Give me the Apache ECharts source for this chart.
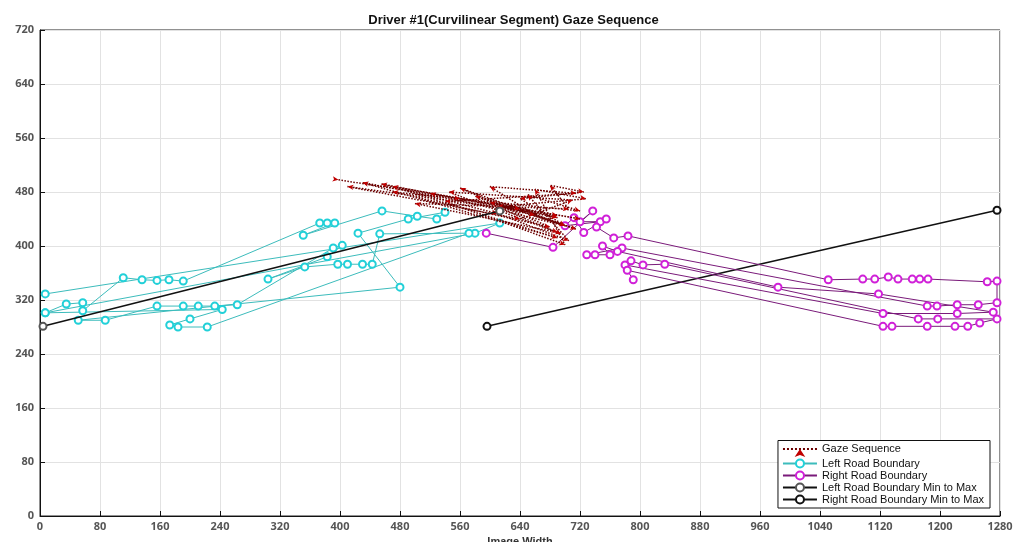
<!DOCTYPE html>
<html>
<head>
<meta charset="utf-8">
<script src="https://cdn.jsdelivr.net/npm/echarts@6/dist/echarts.min.js"></script>
<style>
  html, body { margin: 0; padding: 0; background: #fff; }
  #main { width: 1027px; height: 542px; }
</style>
</head>
<body>
<div id="main"></div>
<script>
// gaze sequence (image pixel coordinates)
const gazeX = [398, 560, 640, 700, 520, 720, 470, 690, 430, 660, 600, 715, 540, 700, 660, 728, 610, 690, 500, 705, 680, 725, 640, 700, 580, 690, 455, 610, 705, 650, 720, 470, 680, 560, 715, 600, 690, 410, 640, 710, 545, 695];
const gazeY = [498, 470, 455, 430, 478, 440, 488, 412, 494, 446, 488, 478, 466, 402, 484, 470, 458, 420, 463, 455, 490, 480, 470, 430, 474, 442, 492, 448, 408, 476, 452, 480, 428, 486, 425, 465, 445, 488, 440, 468, 480, 418];

// left road boundary
const leftX = [7, 613, 580, 7, 35, 57, 57, 111, 136, 156, 172, 191, 373, 383, 393, 351, 456, 503, 529, 540, 491, 424, 480, 51, 87, 156, 191, 211, 233, 263, 391, 403, 383, 304, 353, 397, 410, 430, 443, 453, 572, 223, 184, 173, 200, 243, 7];
const leftY = [329, 434, 419, 301, 314, 316, 304, 353, 350, 349, 350, 348, 434, 434, 434, 416, 452, 444, 440, 450, 440, 419, 339, 290, 290, 311, 311, 311, 311, 313, 397, 401, 384, 351, 369, 373, 373, 373, 373, 418, 419, 280, 280, 283, 292, 306, 301];

// right road boundary
const rightX = [595, 684, 737, 720, 747, 700, 712, 725, 755, 742, 765, 784, 1051, 1097, 1113, 1131, 1144, 1163, 1173, 1184, 1263, 1276, 1276, 1251, 1223, 1196, 1183, 776, 729, 740, 760, 750, 770, 984, 1118, 1271, 1223, 1124, 780, 788, 804, 833, 1171, 1197, 1276, 1253, 1237, 1220, 1183, 1136, 1124, 783, 791];
const rightY = [419, 398, 452, 436, 436, 430, 442, 420, 440, 428, 412, 415, 350, 351, 351, 354, 351, 351, 351, 351, 347, 348, 316, 313, 313, 311, 311, 397, 387, 387, 387, 400, 392, 339, 329, 302, 300, 300, 372, 378, 372, 373, 292, 292, 292, 286, 281, 281, 281, 281, 281, 364, 350];

// min to max lines
const leftMinMaxX = [4, 613];
const leftMinMaxY = [281, 452];
const rightMinMaxX = [596, 1276];
const rightMinMaxY = [281, 453];

const zip = (xs, ys) => xs.map((x, i) => [x, ys[i]]);

// arrow direction for gaze points (approx screen aspect)
function gazeAngle(i) {
    const j = i > 0 ? i : 1;
    const dx = (gazeX[j] - gazeX[j - 1]) * 0.75;
    const dy = (gazeY[j] - gazeY[j - 1]) * 0.675;
    return Math.atan2(dy, dx) * 180 / Math.PI - 90;
}

const chart = echarts.init(document.getElementById('main'));

const option = {
    animation: false,
    backgroundColor: '#fff',
    title: {
        text: 'Driver #1(Curvilinear Segment) Gaze Sequence',
        left: 'center',
        top: 9,
        textStyle: {
            fontFamily: 'Liberation Sans Narrow, Liberation Sans',
            fontSize: 13,
            fontWeight: 'bold',
            color: '#111'
        }
    },
    grid: {
        left: 40, right: 27, top: 30, bottom: 26,
        outerBoundsMode: 'none',
        containLabel: false,
        show: true,
        borderColor: '#222',
        borderWidth: 1
    },
    legend: {
        orient: 'vertical',
        right: 37,
        bottom: 34,
        backgroundColor: '#fff',
        borderColor: '#111',
        borderWidth: 1,
        borderRadius: 0,
        padding: [3, 6, 3, 4],
        itemGap: 1,
        itemWidth: 34,
        itemHeight: 10,
        textStyle: {
            fontFamily: 'Liberation Sans',
            fontSize: 11,
            color: '#111'
        },
        data: [
            { name: 'Gaze Sequence' },
            { name: 'Left Road Boundary' },
            { name: 'Right Road Boundary' },
            { name: 'Left Road Boundary Min to Max' },
            { name: 'Right Road Boundary Min to Max' }
        ]
    },
    xAxis: {
        type: 'value',
        min: 0, max: 1280, interval: 80,
        name: 'Image Width',
        nameLocation: 'middle',
        nameGap: 16,
        nameTextStyle: { fontFamily: 'Liberation Sans', fontSize: 11, fontWeight: 'bold', color: '#333' },
        axisLine: { show: true, lineStyle: { color: '#111' } },
        axisTick: { inside: true, length: 5, lineStyle: { color: '#111' } },
        axisLabel: {
            margin: 5,
            fontFamily: 'Open Sans', fontSize: 11, fontWeight: 'bold', color: '#555',
            formatter: (v) => String(v)
        },
        splitLine: { show: true, lineStyle: { color: '#e2e2e2' } }
    },
    yAxis: {
        type: 'value',
        min: 0, max: 720, interval: 80,
        axisLine: { show: true, lineStyle: { color: '#111' } },
        axisTick: { inside: true, length: 5, lineStyle: { color: '#111' } },
        axisLabel: {
            margin: 6,
            fontFamily: 'Open Sans', fontSize: 11, fontWeight: 'bold', color: '#555'
        },
        splitLine: { show: true, lineStyle: { color: '#e2e2e2' } }
    },
    series: [
        {
            name: 'Right Road Boundary Min to Max',
            type: 'line',
            data: zip(rightMinMaxX, rightMinMaxY),
            symbol: 'emptyCircle',
            symbolSize: 7,
            lineStyle: { color: '#111', width: 1.5 },
            itemStyle: { color: '#111', borderColor: '#111', borderWidth: 1 },
            z: 2
        },
        {
            name: 'Left Road Boundary Min to Max',
            type: 'line',
            data: zip(leftMinMaxX, leftMinMaxY),
            symbol: 'emptyCircle',
            symbolSize: 7,
            lineStyle: { color: '#111', width: 1.5 },
            itemStyle: { color: '#555', borderColor: '#111', borderWidth: 1 },
            z: 5
        },
        {
            name: 'Left Road Boundary',
            type: 'line',
            data: zip(leftX, leftY),
            symbol: 'emptyCircle',
            symbolSize: 7,
            lineStyle: { color: '#3cbcbc', width: 1 },
            itemStyle: { color: '#22d0d8', borderColor: '#22c8d0', borderWidth: 1.2 },
            z: 3
        },
        {
            name: 'Right Road Boundary',
            type: 'line',
            data: zip(rightX, rightY),
            symbol: 'emptyCircle',
            symbolSize: 7,
            lineStyle: { color: '#7a1a7a', width: 1 },
            itemStyle: { color: '#d020d8', borderColor: '#b818c0', borderWidth: 1.2 },
            z: 3
        },
        {
            name: 'Gaze Sequence',
            type: 'line',
            data: zip(gazeX, gazeY),
            symbol: 'arrow',
            symbolSize: [4, 6],
            symbolRotate: (value, params) => gazeAngle(params.dataIndex),
            lineStyle: { color: '#6b0000', width: 1.5, type: 'dotted' },
            itemStyle: { color: '#c00000' },
            z: 4
        }
    ]
};

chart.setOption(option);
</script>
</body>
</html>
